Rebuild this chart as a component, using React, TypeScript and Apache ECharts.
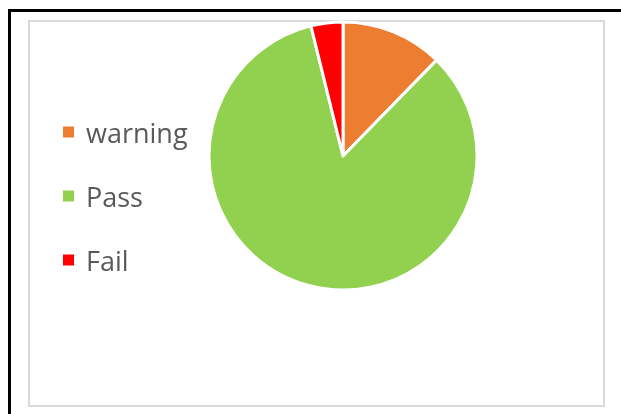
import React, { useEffect, useRef } from "react";
import * as echarts from "echarts";

const categories = ["warning", "Pass", "Fail"];
const values = [16, 109, 5];
const colors = ["#ED7D31", "#92D050", "#FF0000"];

export default function App() {
  const ref = useRef<HTMLDivElement>(null);
  useEffect(() => {
    if (!ref.current) return;
    const chart = echarts.init(ref.current, undefined, { renderer: "svg" });
    chart.setOption({
      animation: false,
      legend: {
        orient: "vertical",
        left: 61,
        top: 117,
        padding: 0,
        itemWidth: 13,
        itemHeight: 13,
        itemGap: 34,
        icon: "rect",
        data: categories,
        textStyle: {
          fontFamily: "Open Sans",
          fontSize: 27,
          lineHeight: 30,
          color: "#595959",
          padding: [0, 0, 0, 6],
        },
      },
      series: [
        {
          type: "pie",
          center: [343, 156],
          radius: 134,
          startAngle: 90,
          clockwise: true,
          label: { show: false },
          labelLine: { show: false },
          emphasis: { disabled: true },
          itemStyle: { borderColor: "#ffffff", borderWidth: 3 },
          data: categories.map((c, i) => ({
            name: c,
            value: values[i],
            itemStyle: { color: colors[i] },
          })),
        },
      ],
    });
    return () => chart.dispose();
  }, []);
  return (
    <div>
      <div
        style={{
          position: "fixed",
          left: 8,
          top: 9,
          width: 700,
          height: 500,
          border: "3px solid #000",
        }}
      />
      <div
        style={{
          position: "fixed",
          left: 28,
          top: 20,
          width: 577,
          height: 387,
          boxSizing: "border-box",
          border: "2px solid #d9d9d9",
        }}
      />
      <div
        ref={ref}
        style={{ position: "fixed", left: 0, top: 0, width: 621, height: 414 }}
      />
    </div>
  );
}
